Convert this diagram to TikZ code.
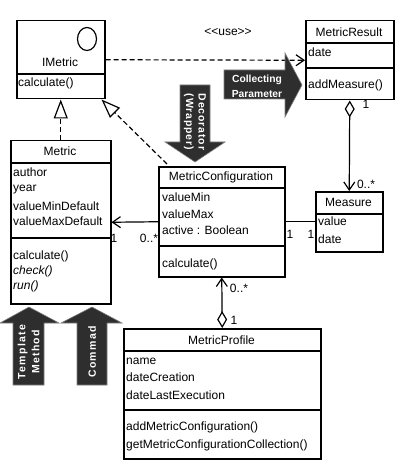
\documentclass[tikz,border=0pt]{standalone}
\usepackage{fontspec}
\setmainfont{Liberation Sans}
\usetikzlibrary{arrows.meta,calc}
\begin{document}
\begin{tikzpicture}[x=1pt,y=-1pt,
  box/.style={draw, line width=1.5pt, anchor=north west, inner sep=0pt},
  divider/.style={line width=1.5pt},
  txt/.style={anchor=west, inner sep=0pt, font=\fontsize{12}{14}\selectfont},
  ctxt/.style={inner sep=0pt, font=\fontsize{12}{14}\selectfont},
  conn/.style={line width=1.2pt},
  dashconn/.style={line width=1.2pt, dash pattern=on 5pt off 3pt},
  openv/.style={-{Straight Barb[length=8pt,width=11pt,line width=1.2pt]}},
  gen/.style={-{Triangle[open,length=19pt,width=14pt,line width=1.2pt]}},
  agg/.style={{Diamond[open,length=17pt,width=10pt,line width=1.2pt]}-{Straight Barb[length=8pt,width=11pt,line width=1.2pt]}},
  lbl/.style={inner sep=0pt, font=\fontsize{12}{14}\selectfont},
  pat/.style={fill=black!82, draw=black!50, line width=0.6pt},
  pattxt/.style={text=white, align=center, inner sep=0pt},
]
\path[use as bounding box] (0,0) rectangle (402,473);

% ---------- IMetric ----------
\node[box, minimum width=88pt, minimum height=78pt] (imetric) at (16,20) {};
\draw[divider] (16,74) -- (104,74);
\draw[line width=1.2pt] (87,39) ellipse [x radius=9.5pt, y radius=11.5pt];
\node[ctxt] (imetricname) at (60,62) {IMetric};
\node[txt] (imetricop) at (18,83) {calculate()};

% ---------- MetricResult ----------
\node[box, minimum width=88pt, minimum height=79pt] (mresult) at (305,20) {};
\draw[divider] (305,43) -- (393,43);
\draw[divider] (305,68) -- (393,68);
\node[ctxt] (mresultname) at (349,32) {MetricResult};
\node[txt] (mresultdate) at (308,52) {date};
\node[txt] (mresultop) at (308,85) {addMeasure()};

% ---------- Metric ----------
\node[box, minimum width=100pt, minimum height=163pt] (metric) at (10,140) {};
\draw[divider] (10,163) -- (110,163);
\draw[divider] (10,238) -- (110,238);
\node[ctxt] (metricname) at (60,151) {Metric};
\node[txt] (ma1) at (13,172) {author};
\node[txt] (ma2) at (13,190) {year};
\node[txt] (ma3) at (13,206) {valueMinDefault};
\node[txt] (ma4) at (13,221) {valueMaxDefault};
\node[txt] (mo1) at (13,256) {calculate()};
\node[txt] (mo2) at (13,271) {\itshape check()};
\node[txt] (mo3) at (13,286) {\itshape run()};

% ---------- MetricConfiguration ----------
\node[box, minimum width=126pt, minimum height=110pt] (mconf) at (158,166) {};
\draw[divider] (158,188) -- (284,188);
\draw[divider] (158,246) -- (284,246);
\node[ctxt] (mconfname) at (221,177) {MetricConfiguration};
\node[txt] (ca1) at (162,197) {valueMin};
\node[txt] (ca2) at (162,214) {valueMax};
\node[txt] (ca3) at (162,230) {active : Boolean};
\node[txt] (co1) at (162,264) {calculate()};

% ---------- Measure ----------
\node[box, minimum width=67pt, minimum height=60pt] (measure) at (315,191) {};
\draw[divider] (315,214) -- (382,214);
\node[ctxt] (measurename) at (348.5,202) {Measure};
\node[txt] (ea1) at (318,221) {value};
\node[txt] (ea2) at (318,239) {date};

% ---------- MetricProfile ----------
\node[box, minimum width=197pt, minimum height=130pt] (mprofile) at (123,328) {};
\draw[divider] (123,351) -- (320,351);
\draw[divider] (123,410) -- (320,410);
\node[ctxt] (mprofilename) at (221.5,340) {MetricProfile};
\node[txt] (pa1) at (126,361) {name};
\node[txt] (pa2) at (126,377) {dateCreation};
\node[txt] (pa3) at (126,395) {dateLastExecution};
\node[txt] (po1) at (126,427) {addMetricConfiguration()};
\node[txt] (po2) at (126,445) {getMetricConfigurationCollection()};

% ---------- connectors ----------
\draw[dashconn, openv] (imetric.east) -- (mresult.west);
\node[lbl] (uselbl) at (228,32) {<\kern0pt<use>\kern0pt>};

\draw[dashconn, gen] (metric.north) -- (imetric.south);
\draw[dashconn, gen] ($(mconf.north west)+(9,-2)$) -- ($(imetric.south east)+(-4,0)$);

\draw[conn, openv] (mconf.west) -- (metric.east);
\node[lbl] (l1) at (114,238) {1};
\node[lbl] (l2) at (149,238) {0..*};

\draw[conn] (mconf.east) -- (measure.west);
\node[lbl] (l3) at (290,234) {1};
\node[lbl] (l4) at (311,234) {1};

\draw[conn, agg] (mresult.south) -- (measure.north);
\node[lbl] (l5) at (366,104) {1};
\node[lbl] (l6) at (366,184) {0..*};

\draw[conn, agg] (mprofile.north) -- (mconf.south);
\node[lbl] (l7) at (239,288) {0..*};
\node[lbl] (l8) at (234,320) {1};

% ---------- pattern arrows ----------
\draw[pat] (224,70) -- (285,70) -- (285,53) -- (302,85) -- (285,117) -- (285,99) -- (224,99) -- cycle;
\node[pattxt, font=\fontsize{10.3}{15}\selectfont\bfseries] (collecting) at (257,86) {Collecting\\Parameter};

\draw[pat] (180,85) -- (210,85) -- (210,142) -- (225,142) -- (195,162) -- (165,142) -- (180,142) -- cycle;
\node[pattxt, rotate=-90, font=\fontsize{10.5}{12.5}\selectfont\bfseries\addfontfeature{LetterSpace=8}] (decorator) at (195,122) {Decorator\\(Wrapper)};

\draw[pat] (13,385) -- (13,323) -- (0,323) -- (29,307) -- (59,323) -- (44,323) -- (44,385) -- cycle;
\node[pattxt, rotate=90, font=\fontsize{10.5}{14}\selectfont\bfseries\addfontfeature{LetterSpace=12}] (template) at (28.5,352) {Template\\Method};

\draw[pat] (77,385) -- (77,323) -- (61,323) -- (92,307) -- (122,323) -- (107,323) -- (107,385) -- cycle;
\node[pattxt, rotate=90, font=\fontsize{10.5}{14}\selectfont\bfseries\addfontfeature{LetterSpace=12}] (commad) at (92,352) {Commad};
\end{tikzpicture}
\end{document}
